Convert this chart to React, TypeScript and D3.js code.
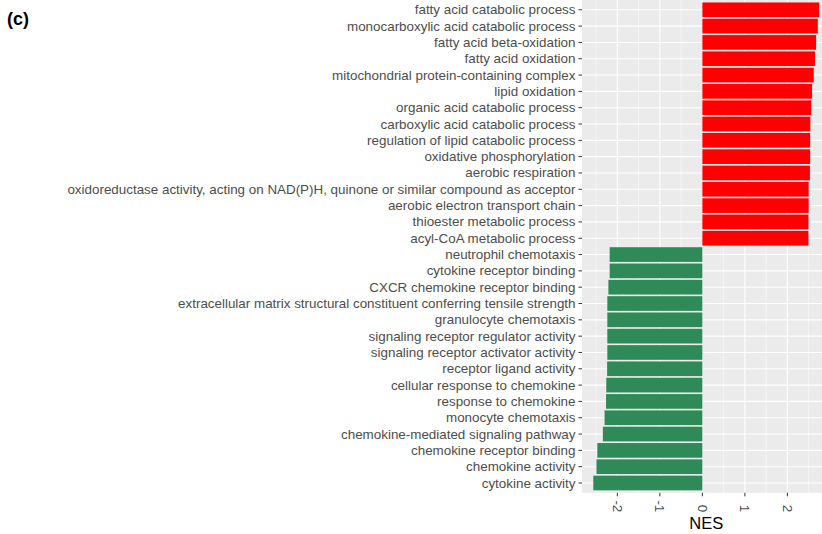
import React from "react";
import * as d3 from "d3";

const terms: string[] = [
  "fatty acid catabolic process",
  "monocarboxylic acid catabolic process",
  "fatty acid beta-oxidation",
  "fatty acid oxidation",
  "mitochondrial protein-containing complex",
  "lipid oxidation",
  "organic acid catabolic process",
  "carboxylic acid catabolic process",
  "regulation of lipid catabolic process",
  "oxidative phosphorylation",
  "aerobic respiration",
  "oxidoreductase activity, acting on NAD(P)H, quinone or similar compound as acceptor",
  "aerobic electron transport chain",
  "thioester metabolic process",
  "acyl-CoA metabolic process",
  "neutrophil chemotaxis",
  "cytokine receptor binding",
  "CXCR chemokine receptor binding",
  "extracellular matrix structural constituent conferring tensile strength",
  "granulocyte chemotaxis",
  "signaling receptor regulator activity",
  "signaling receptor activator activity",
  "receptor ligand activity",
  "cellular response to chemokine",
  "response to chemokine",
  "monocyte chemotaxis",
  "chemokine-mediated signaling pathway",
  "chemokine receptor binding",
  "chemokine activity",
  "cytokine activity",
];

const nes: number[] = [
  2.75, 2.715, 2.675, 2.65, 2.62, 2.58, 2.56, 2.54, 2.535, 2.535, 2.53, 2.5, 2.5,
  2.495, 2.495, -2.18, -2.18, -2.21, -2.235, -2.235, -2.235, -2.235, -2.24, -2.26,
  -2.265, -2.3, -2.34, -2.47, -2.49, -2.565,
];

const xTicks: number[] = [-2, -1, 0, 1, 2];
const xMinor: number[] = [-2.5, -1.5, -0.5, 0.5, 1.5, 2.5];
const xTitle = "NES";
const panelTag = "(c)";

const W = 822;
const H = 534;
const FONT = "'Liberation Sans', Arial, Helvetica, sans-serif";

export default function App() {
  const panelLeft = 582;
  const panelRight = 830.6;
  const panelTop = 0;
  const panelBottom = 492.8;

  const lo = d3.min(nes) as number;
  const hi = d3.max(nes) as number;
  const pad = (hi - lo) * 0.05;
  const x = d3.scaleLinear().domain([lo - pad, hi + pad]).range([panelLeft, panelRight]);
  const y = d3.scalePoint<string>().domain(terms).range([panelTop, panelBottom]).padding(0.6);
  const bh = y.step() * 0.9;

  return (
    <svg
      width={W}
      height={H}
      style={{ position: "absolute", left: 0, top: 0, background: "#fff" }}
      fontFamily={FONT}
    >
      <defs>
        <clipPath id="panel-clip">
          <rect x={panelLeft} y={panelTop} width={panelRight - panelLeft} height={panelBottom - panelTop} />
        </clipPath>
      </defs>
      <rect x={panelLeft} y={panelTop} width={panelRight - panelLeft} height={panelBottom - panelTop} fill="#EBEBEB" />
      <g clipPath="url(#panel-clip)">
        {xMinor.map((v) => (
          <line key={"mn" + v} x1={x(v)} x2={x(v)} y1={panelTop} y2={panelBottom} stroke="#fff" strokeWidth={0.55} />
        ))}
        {xTicks.map((v) => (
          <line key={"mj" + v} x1={x(v)} x2={x(v)} y1={panelTop} y2={panelBottom} stroke="#fff" strokeWidth={1.1} />
        ))}
        {terms.map((t) => (
          <line key={"hg" + t} x1={panelLeft} x2={panelRight} y1={y(t)} y2={y(t)} stroke="#fff" strokeWidth={1.1} />
        ))}
        {terms.map((t, i) => {
          const v = nes[i];
          const x0 = x(Math.min(0, v));
          const x1 = x(Math.max(0, v));
          return (
            <rect
              key={"b" + t}
              x={x0}
              y={(y(t) as number) - bh / 2}
              width={x1 - x0}
              height={bh}
              fill={v > 0 ? "#FF0000" : "#2E8B57"}
            />
          );
        })}
      </g>
      {terms.map((t) => (
        <g key={"yl" + t}>
          <line x1={panelLeft - 3.5} x2={panelLeft} y1={y(t)} y2={y(t)} stroke="#333" strokeWidth={1} />
          <text
            x={panelLeft - 6.5}
            y={y(t)}
            textAnchor="end"
            dominantBaseline="central"
            fontSize={13.4}
            fill="#4D4D4D"
          >
            {t}
          </text>
        </g>
      ))}
      {xTicks.map((v) => (
        <g key={"xl" + v}>
          <line x1={x(v)} x2={x(v)} y1={panelBottom} y2={panelBottom + 3.5} stroke="#333" strokeWidth={1} />
          <text
            transform={`translate(${x(v)},${panelBottom + 19.5}) rotate(90)`}
            textAnchor="end"
            dominantBaseline="central"
            fontSize={13.4}
            fill="#4D4D4D"
          >
            {v < 0 ? "-" + Math.abs(v) : String(v)}
          </text>
        </g>
      ))}
      <text x={(panelLeft + panelRight) / 2} y={528.5} textAnchor="middle" fontSize={16.5} fill="#000">
        {xTitle}
      </text>
      <text x={7} y={25} fontSize={18} fontWeight="bold" fill="#000">
        {panelTag}
      </text>
    </svg>
  );
}
